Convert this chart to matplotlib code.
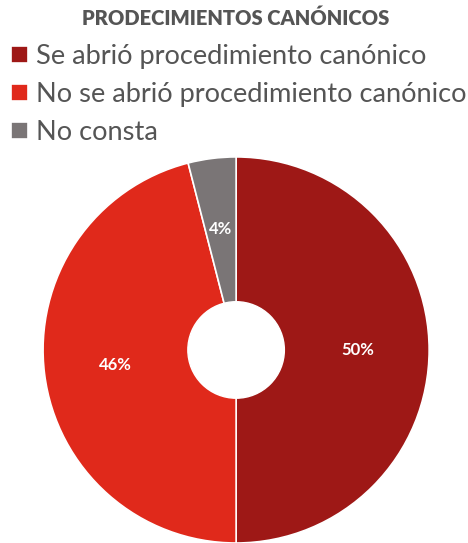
import matplotlib
matplotlib.use("Agg")
import matplotlib.pyplot as plt
from matplotlib.patches import Circle

# data
labels = ["Se abrió procedimiento canónico", "No se abrió procedimiento canónico", "No consta"]
values = [50, 46, 4]
colors = ["#9E1816", "#E0291B", "#7A7576"]
title = "PRODECIMIENTOS CANÓNICOS"

plt.rcParams['font.family'] = ['Lato', 'DejaVu Sans']

fig = plt.figure(figsize=(4.68, 5.43), dpi=100)
ax = fig.add_axes([0.092, 0.0, 0.825, 0.711])

wedges, texts, autotexts = ax.pie(
    values, colors=colors, startangle=90, counterclock=False,
    autopct=lambda p: f"{p:.0f}%", pctdistance=0.63,
    wedgeprops=dict(edgecolor="white", linewidth=1.2),
    textprops=dict(color="white", fontsize=12, fontweight="bold"))
ax.add_patch(Circle((0, 0), 0.25, color="white", zorder=5))
ax.set_xlim(-1, 1)
ax.set_ylim(-1, 1)
ax.set_aspect("equal")

fig.text(0.504, 0.967, title, ha="center", va="center", fontsize=14.5,
         fontweight="heavy", color="#555555")

leg = fig.legend(wedges, labels, loc="upper left", bbox_to_anchor=(-0.017, 0.954),
                 frameon=False, fontsize=19.6, handlelength=0.62, handleheight=0.62,
                 handletextpad=0.3, labelspacing=0.48, borderaxespad=0.3)
for t in leg.get_texts():
    t.set_color("#555555")

fig.savefig("out.png", dpi=100)
